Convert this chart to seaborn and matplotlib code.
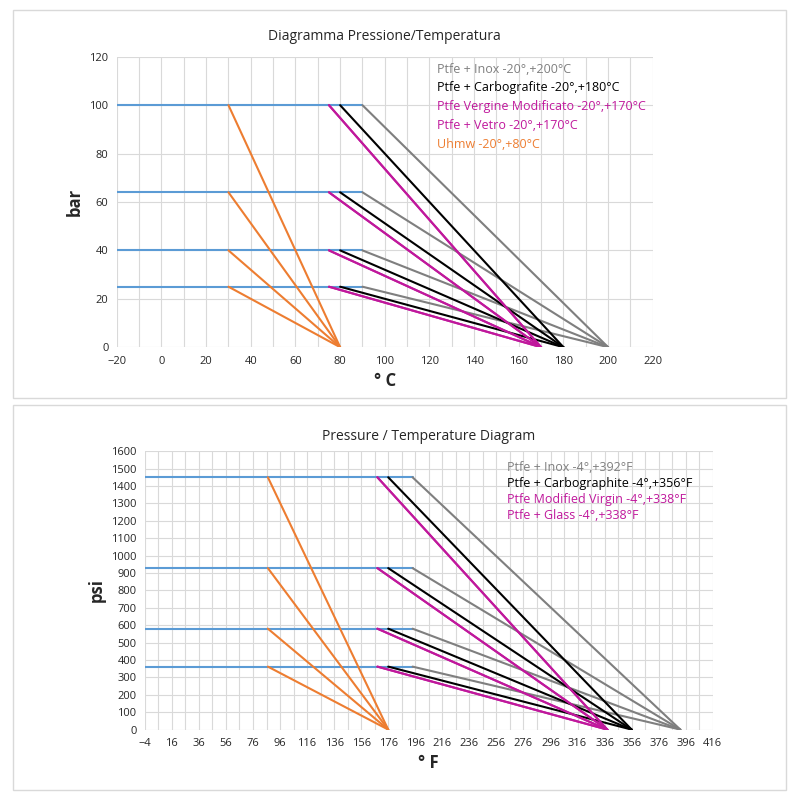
import matplotlib.pyplot as plt
import seaborn as sns
from matplotlib.patches import Rectangle

sns.set_style("white")
plt.rcParams["font.family"] = ["Open Sans", "DejaVu Sans"]

# pressure levels
bar_levels = [100, 64, 40, 25]
psi_levels = [1450, 928, 580, 362]

# top chart (°C): start temperature of each slope, end temperature at 0 bar
c_series = [
    ("Ptfe + Inox -20°,+200°C", "#7f7f7f", 90, 200),
    ("Ptfe + Carbografite -20°,+180°C", "#000000", 80, 180),
    ("Ptfe Vergine Modificato -20°,+170°C", "#c0189c", 75, 170),
    ("Ptfe + Vetro -20°,+170°C", "#c0189c", 75, 170),
    ("Uhmw -20°,+80°C", "#ed7d31", 30, 80),
]
c_flat = (-20, 90)

f_series = [
    ("Ptfe + Inox -4°,+392°F", "#7f7f7f", 194, 392),
    ("Ptfe + Carbographite -4°,+356°F", "#000000", 176, 356),
    ("Ptfe Modified Virgin -4°,+338°F", "#c0189c", 168, 338),
    ("Ptfe + Glass -4°,+338°F", "#c0189c", 168, 338),
    (None, "#ed7d31", 87, 176),
]
f_flat = (-4, 194)

fig = plt.figure(figsize=(8, 8), dpi=100)
for rect in [(0.016, 0.503, 0.966, 0.485), (0.016, 0.012, 0.966, 0.482)]:
    fig.patches.append(Rectangle(rect[:2], rect[2], rect[3], transform=fig.transFigure,
                                 fill=False, edgecolor="#d9d9d9", lw=1))

ax1 = fig.add_axes([0.146, 0.566, 0.67, 0.363])
ax2 = fig.add_axes([0.181, 0.088, 0.71, 0.348])


def draw(ax, series, levels, flat):
    for lvl in levels:
        sns.lineplot(x=list(flat), y=[lvl, lvl], ax=ax, color="#5b9bd5", lw=1.5)
    for name, col, start, end in series:
        for lvl in levels:
            sns.lineplot(x=[start, end], y=[lvl, 0], ax=ax, color=col, lw=1.5)
    for s in ax.spines.values():
        s.set_visible(False)
    ax.tick_params(length=0, labelsize=8, pad=6)


draw(ax1, c_series, bar_levels, c_flat)
ax1.set_xlim(-20, 220)
ax1.set_ylim(0, 120)
ax1.set_xticks(range(-20, 221, 20))
ax1.set_yticks(range(0, 121, 20))
ax1.set_xticks(range(-20, 221, 10), minor=True)
ax1.grid(True, which="both", axis="x", color="#d9d9d9", lw=0.8)
ax1.grid(True, axis="y", color="#d9d9d9", lw=0.8)
ax1.set_title("Diagramma Pressione/Temperatura", fontsize=10, pad=12)
ax1.set_xlabel("° C", fontsize=12, fontweight="bold")
ax1.set_ylabel("bar", fontsize=12, fontweight="bold")
for i, (name, col, _, _) in enumerate(c_series):
    ax1.text(0.597, 0.98 - i * 0.065, name, color=col, transform=ax1.transAxes,
             fontsize=9, va="top")

draw(ax2, f_series, psi_levels, f_flat)
ax2.set_xlim(-4, 416)
ax2.set_ylim(0, 1600)
ax2.set_xticks(range(-4, 417, 20))
ax2.set_yticks(range(0, 1601, 100))
ax2.set_xticks(range(6, 417, 20), minor=True)
ax2.grid(True, which="both", axis="x", color="#d9d9d9", lw=0.8)
ax2.grid(True, axis="y", color="#d9d9d9", lw=0.8)
ax2.set_title("Pressure / Temperature Diagram", fontsize=10, pad=8)
ax2.set_xlabel("° F", fontsize=12, fontweight="bold")
ax2.set_ylabel("psi", fontsize=12, fontweight="bold")
for i, (name, col, _, _) in enumerate(f_series):
    if name:
        ax2.text(0.637, 0.965 - i * 0.058, name, color=col, transform=ax2.transAxes,
                 fontsize=9, va="top")

fig.savefig("out.png", dpi=100)
